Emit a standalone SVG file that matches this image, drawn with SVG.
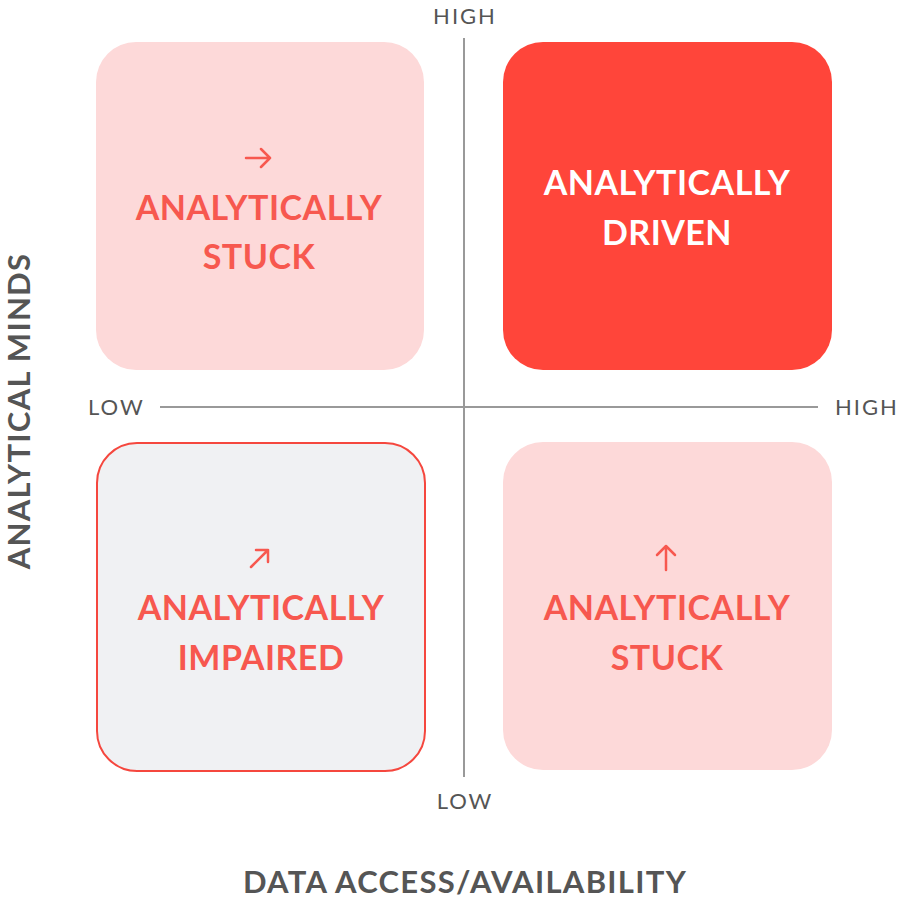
<svg xmlns="http://www.w3.org/2000/svg" width="899" height="903" viewBox="0 0 899 903">
  <style>
    .box-soft { fill: #FDD9D9; }
    .box-strong { fill: #FF453A; }
    .box-outline { fill: #F0F1F3; stroke: #F5473E; stroke-width: 2; }
    .title { font-family: Lato, "Liberation Sans", sans-serif; font-weight: bold; font-size: 34px; letter-spacing: 0.5px; text-anchor: middle; }
    .title-red { fill: #F7584F; }
    .title-white { fill: #FFFFFF; }
    .tick { font-family: Lato, "Liberation Sans", sans-serif; font-size: 22px; fill: #555555; letter-spacing: 2px; }
    .axis-title { font-family: Lato, "Liberation Sans", sans-serif; font-weight: bold; font-size: 31px; fill: #555555; text-anchor: middle; letter-spacing: 1.3px; }
    .axis { stroke: #999999; stroke-width: 2; fill: none; }
    .glyph { stroke: #F7584F; stroke-width: 2.5; fill: none; stroke-linecap: round; stroke-linejoin: round; }
  </style>

  <!-- axes -->
  <g id="connectors">
    <line class="axis" x1="464" y1="38" x2="464" y2="777"/>
    <line class="axis" x1="160" y1="407" x2="818" y2="407"/>
  </g>

  <!-- axis labels -->
  <g id="axis-labels">
    <text class="tick" x="465" y="24" text-anchor="middle">HIGH</text>
    <text class="tick" x="465" y="809" text-anchor="middle">LOW</text>
    <text class="tick" x="88" y="415">LOW</text>
    <text class="tick" x="835" y="415">HIGH</text>
    <text class="axis-title" x="465" y="893">DATA ACCESS/AVAILABILITY</text>
    <text class="axis-title" transform="translate(30 411) rotate(-90)">ANALYTICAL MINDS</text>
  </g>

  <!-- top-left quadrant -->
  <g id="node-top-left">
    <rect class="box-soft" x="96" y="42" width="328" height="328" rx="40"/>
    <path class="glyph" d="M246 158 H270 M261 149 L270 158 L261 167"/>
    <text class="title title-red" x="259" y="220">ANALYTICALLY</text>
    <text class="title title-red" x="259" y="269">STUCK</text>
  </g>

  <!-- top-right quadrant -->
  <g id="node-top-right">
    <rect class="box-strong" x="503" y="42" width="329" height="328" rx="40"/>
    <text class="title title-white" x="667" y="195">ANALYTICALLY</text>
    <text class="title title-white" x="667" y="245">DRIVEN</text>
  </g>

  <!-- bottom-left quadrant -->
  <g id="node-bottom-left">
    <rect class="box-outline" x="97" y="443" width="328" height="328" rx="40"/>
    <path class="glyph" d="M251 567 L268 550 M256 550 H268 V562"/>
    <text class="title title-red" x="261" y="620">ANALYTICALLY</text>
    <text class="title title-red" x="261" y="670">IMPAIRED</text>
  </g>

  <!-- bottom-right quadrant -->
  <g id="node-bottom-right">
    <rect class="box-soft" x="503" y="442" width="329" height="328" rx="40"/>
    <path class="glyph" d="M666 570 V546 M657 555 L666 546 L675 555"/>
    <text class="title title-red" x="667" y="620">ANALYTICALLY</text>
    <text class="title title-red" x="667" y="670">STUCK</text>
  </g>
</svg>
